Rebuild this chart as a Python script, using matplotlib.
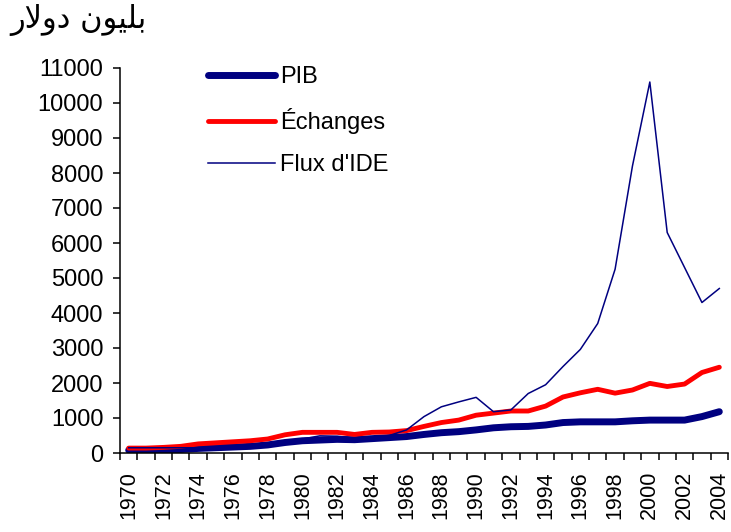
import numpy as np
import matplotlib
matplotlib.use("Agg")
import matplotlib.pyplot as plt
from matplotlib.ticker import FixedLocator

# Data (billions of dollars)
years = list(range(1970, 2005))
pib = [80, 80, 90, 100, 130, 150, 170, 190, 230, 300,
       350, 370, 390, 380, 410, 440, 470, 530, 580, 610,
       660, 720, 750, 760, 800, 870, 890, 890, 890, 920,
       940, 940, 940, 1040, 1180]
echanges = [140, 140, 160, 190, 260, 290, 320, 350, 400, 520,
            590, 590, 590, 530, 590, 600, 640, 760, 870, 940,
            1080, 1140, 1200, 1200, 1340, 1600, 1720, 1820, 1710, 1800,
            1990, 1900, 1970, 2300, 2450]
flux_ide = [150, 150, 150, 150, 150, 180, 200, 220, 260, 330,
            400, 490, 480, 420, 450, 500, 660, 1040, 1320, 1460,
            1590, 1180, 1230, 1700, 1950, 2470, 2960, 3700, 5250, 8200,
            10600, 6300, 5300, 4300, 4700]
series_labels = ["PIB", "Échanges", "Flux d'IDE"]
# "بليون دولار" pre-shaped (presentation forms, visual order)
unit_label = "\uFEAD\uFEFB\uFEED\uFEA9 \uFEE5\uFEEE\uFEF4\uFEE0\uFE91"

plt.rcParams['font.family'] = ['Liberation Sans', 'DejaVu Sans']

fig = plt.figure(figsize=(7.31, 5.32), dpi=100)
ax = fig.add_axes([120 / 731, 79 / 532, 608 / 731, 385 / 532])

x = np.arange(len(years))
ax.plot(x, pib, color="#000080", lw=5, solid_capstyle="round", label=series_labels[0])
ax.plot(x, echanges, color="#ff0000", lw=3.5, solid_capstyle="round", label=series_labels[1])
ax.plot(x, flux_ide, color="#000080", lw=1.1, label=series_labels[2])

ax.set_xlim(-0.5, len(years) - 0.5)
ax.set_ylim(0, 11000)
ax.set_yticks(range(0, 11001, 1000))
# label every other year, tick marks on every category boundary
ax.set_xticks(x[::2])
ax.set_xticklabels([str(y) for y in years[::2]], rotation=90)
ax.xaxis.set_minor_locator(FixedLocator(np.arange(-0.5, len(years), 1)))

ax.tick_params(axis="x", which="major", length=0, pad=13, labelsize=15.5)
ax.tick_params(axis="x", which="minor", length=5, width=1.1, direction="out")
ax.tick_params(axis="y", length=5, width=1.1, pad=7, labelsize=17)

for side in ["top", "right"]:
    ax.spines[side].set_visible(False)
for side in ["left", "bottom"]:
    ax.spines[side].set_linewidth(1.1)

ax.legend(loc="upper left", bbox_to_anchor=(208 / 731, 1 - 66 / 532),
          bbox_transform=fig.transFigure, frameon=False, fontsize=17,
          borderaxespad=0, borderpad=0, handlelength=2.85, handletextpad=0.2,
          labelspacing=0.85)

fig.text(10 / 731, 1 - 4 / 532, unit_label, ha="left", va="top",
         fontsize=22, family=["DejaVu Sans"])

fig.savefig("out.png", dpi=100)
